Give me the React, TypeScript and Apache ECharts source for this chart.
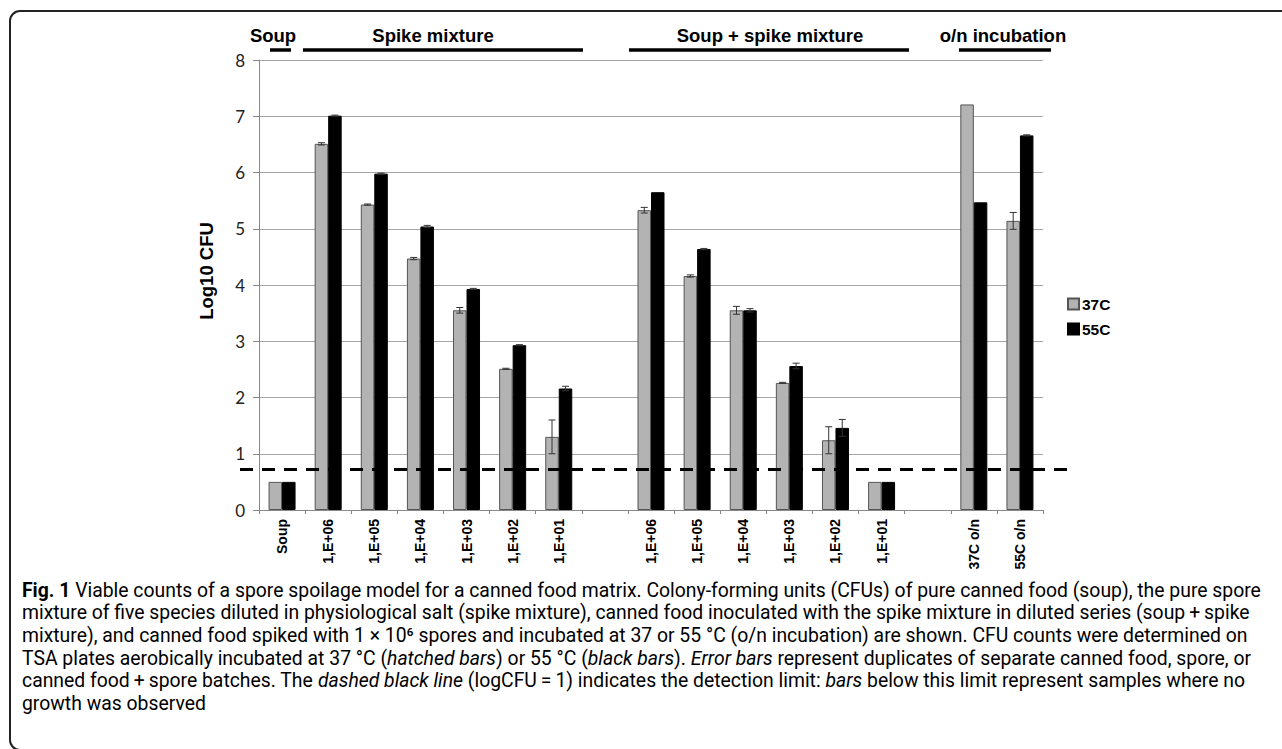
import React, { useEffect, useRef } from 'react';
import * as echarts from 'echarts';

// ---------- data ----------
const categories = [
  'Soup', '1,E+06', '1,E+05', '1,E+04', '1,E+03', '1,E+02', '1,E+01', '',
  '1,E+06', '1,E+05', '1,E+04', '1,E+03', '1,E+02', '1,E+01', '',
  '37C o/n', '55C o/n',
];
const legendNames = ['37C', '55C'];
const values37 = [0.5, 6.51, 5.43, 4.47, 3.55, 2.51, 1.30, null, 5.33, 4.16, 3.55, 2.26, 1.24, 0.5, null, 7.21, 5.14];
const values55 = [0.5, 7.01, 5.98, 5.04, 3.93, 2.93, 2.16, null, 5.65, 4.64, 3.55, 2.56, 1.46, 0.5, null, 5.47, 6.66];
const errors37 = [0, 0.02, 0.01, 0.02, 0.05, 0.01, 0.30, null, 0.05, 0.02, 0.07, 0.01, 0.24, 0, null, 0, 0.15];
const errors55 = [0, 0.01, 0.01, 0.02, 0.01, 0.01, 0.04, null, 0, 0.01, 0.03, 0.05, 0.15, 0, null, 0, 0.01];
const detectionLimit = [0.72];
const yAxisTitle = 'Log10 CFU';
const groupHeaders = ['Soup', 'Spike mixture', 'Soup + spike mixture', 'o/n incubation'];

type Seg = [string, string];
const captionLines: Seg[][] = [
  [['b', 'Fig. 1'], ['n', ' Viable counts of a spore spoilage model for a canned food matrix. Colony-forming units (CFUs) of pure canned food (soup), the pure spore']],
  [['n', 'mixture of five species diluted in physiological salt (spike mixture), canned food inoculated with the spike mixture in diluted series (soup\u2009+\u2009spike']],
  [['n', 'mixture), and canned food spiked with 1 × 10⁶ spores and incubated at 37 or 55 °C (o/n incubation) are shown. CFU counts were determined on']],
  [['n', 'TSA plates aerobically incubated at 37 °C ('], ['i', 'hatched bars'], ['n', ') or 55 °C ('], ['i', 'black bars'], ['n', '). '], ['i', 'Error bars'], ['n', ' represent duplicates of separate canned food, spore, or']],
  [['n', 'canned food\u2009+\u2009spore batches. The '], ['i', 'dashed black line'], ['n', ' (logCFU\u2009=\u20091) indicates the detection limit: '], ['i', 'bars'], ['n', ' below this limit represent samples where no']],
  [['n', 'growth was observed']],
];

// ---------- layout constants ----------
const W = 1282;
const H = 749;
const GRID = { left: 259, right: W - 1043, top: 60, bottom: H - 510 };
const BAR_W = 13.5;
const HEAD_FONT = 'Liberation Sans, Arial, sans-serif';
const CAP_FONT = 'Roboto, sans-serif';

const headerPos = [
  { cx: 273, x1: 270, x2: 291 },
  { cx: 433, x1: 303, x2: 583 },
  { cx: 770, x1: 629, x2: 909 },
  { cx: 1003, x1: 959, x2: 1051 },
];

function measureSegs(segs: Seg[], size: number) {
  const c = document.createElement('canvas').getContext('2d');
  if (!c) return 1;
  let w = 0;
  for (const [s, t] of segs) {
    const style = s === 'i' ? 'italic ' : '';
    const weight = s === 'b' ? 'bold ' : '';
    c.font = `${style}${weight}${size}px ${CAP_FONT}`;
    w += c.measureText(t).width;
  }
  return w;
}

function errorBarSeries(values: (number | null)[], errors: (number | null)[], offset: number) {
  const data = categories
    .map((_, i) => [i, values[i], errors[i]])
    .filter((d) => d[1] != null && (d[2] as number) > 0);
  return {
    type: 'custom',
    data,
    z: 5,
    encode: { x: 0, y: 1 },
    silent: true,
    renderItem: (params: any, api: any) => {
      const idx = api.value(0);
      const v = api.value(1);
      const e = api.value(2);
      const hi = api.coord([idx, v + e]);
      const lo = api.coord([idx, v - e]);
      const x = hi[0] + offset;
      const st = { stroke: '#333', lineWidth: 1 };
      return {
        type: 'group',
        children: [
          { type: 'line', shape: { x1: x, y1: hi[1], x2: x, y2: lo[1] }, style: st },
          { type: 'line', shape: { x1: x - 3.5, y1: hi[1], x2: x + 3.5, y2: hi[1] }, style: st },
          { type: 'line', shape: { x1: x - 3.5, y1: lo[1], x2: x + 3.5, y2: lo[1] }, style: st },
        ],
      };
    },
  };
}

// category labels drawn at the category scale positions (rotated, reading upward)
const categoryLabelSeries = {
  type: 'custom',
  data: categories.map((_, i) => [i, 0]),
  z: 6,
  silent: true,
  clip: false,
  encode: { x: 0, y: 1 },
  renderItem: (params: any, api: any) => {
    const idx = api.value(0);
    const p = api.coord([idx, 0]);
    return {
      type: 'text',
      x: p[0],
      y: p[1] + 9,
      rotation: Math.PI / 2,
      style: {
        text: categories[idx],
        fontFamily: HEAD_FONT,
        fontWeight: 'bold',
        fontSize: 14,
        fill: '#000',
        align: 'right',
        verticalAlign: 'middle',
      },
    };
  },
};

export default function App() {
  const ref = useRef<HTMLDivElement>(null);
  useEffect(() => {
    if (!ref.current) return;
    const chart = echarts.init(ref.current, null, { renderer: 'svg' });

    const capBase = measureSegs(captionLines[0], 20);
    const capSize = Math.max(12, Math.min(22, (20 * 1240) / capBase));
    const capColor = '#333';
    const rich = {
      n: { fontFamily: CAP_FONT, fontSize: capSize, color: capColor },
      b: { fontFamily: CAP_FONT, fontSize: capSize, color: capColor, fontWeight: 'bold' },
      i: { fontFamily: CAP_FONT, fontSize: capSize, color: capColor, fontStyle: 'italic' },
    };

    const graphics: any[] = [
      {
        type: 'rect',
        silent: true,
        shape: { x: 10, y: 11, width: 1320, height: 739, r: 10 },
        style: { fill: 'none', stroke: '#222', lineWidth: 2 },
      },
      {
        type: 'text',
        silent: true,
        x: 206,
        y: 271,
        rotation: Math.PI / 2,
        style: {
          text: yAxisTitle,
          fontFamily: HEAD_FONT,
          fontWeight: 'bold',
          fontSize: 18.5,
          fill: '#000',
          align: 'center',
          verticalAlign: 'middle',
        },
      },
    ];
    groupHeaders.forEach((h, i) => {
      const p = headerPos[i];
      graphics.push({
        type: 'text',
        silent: true,
        x: p.cx,
        y: 35,
        style: {
          text: h,
          fontFamily: HEAD_FONT,
          fontWeight: 'bold',
          fontSize: 18.5,
          fill: '#000',
          align: 'center',
          verticalAlign: 'middle',
        },
      });
      graphics.push({
        type: 'line',
        silent: true,
        shape: { x1: p.x1, y1: 50, x2: p.x2, y2: 50 },
        style: { stroke: '#000', lineWidth: 3.5 },
      });
    });
    captionLines.forEach((segs, i) => {
      graphics.push({
        type: 'text',
        silent: true,
        x: 22,
        y: 590 + i * 22.7,
        style: {
          text: segs.map(([s, t]) => `{${s}|${t}}`).join(''),
          rich,
          align: 'left',
          verticalAlign: 'middle',
        },
      });
    });

    chart.setOption({
      animation: false,
      backgroundColor: '#fff',
      grid: GRID,
      legend: {
        data: legendNames,
        orient: 'vertical',
        left: 1062,
        top: 291,
        icon: 'rect',
        itemWidth: 11,
        itemHeight: 11,
        itemGap: 9,
        textStyle: { fontFamily: HEAD_FONT, fontWeight: 'bold', fontSize: 15.5, color: '#000', padding: [0, 0, 0, -2] },
      },
      xAxis: {
        type: 'category',
        data: categories,
        boundaryGap: true,
        axisLine: { lineStyle: { color: '#888', width: 1 } },
        axisTick: { show: true, interval: 0, length: 4, lineStyle: { color: '#888' } },
        axisLabel: { show: false },
        splitLine: { show: false },
      },
      yAxis: {
        type: 'value',
        min: 0,
        max: 8,
        interval: 1,
        axisLine: { show: true, lineStyle: { color: '#888', width: 1 } },
        axisTick: { show: true, length: 6, lineStyle: { color: '#888' } },
        axisLabel: { margin: 14, fontFamily: 'Lato, sans-serif', fontSize: 17, color: '#222' },
        splitLine: { lineStyle: { color: '#a6a6a6', width: 1 } },
      },
      graphic: graphics,
      series: [
        {
          name: legendNames[0],
          type: 'bar',
          data: values37,
          barWidth: BAR_W,
          barGap: '0%',
          itemStyle: { color: '#b3b3b3', borderColor: '#555', borderWidth: 1 },
        },
        {
          name: legendNames[1],
          type: 'bar',
          data: values55,
          barWidth: BAR_W,
          barGap: '0%',
          itemStyle: { color: '#000', borderColor: '#000', borderWidth: 1 },
        },
        errorBarSeries(values37, errors37, -BAR_W / 2),
        errorBarSeries(values55, errors55, BAR_W / 2),
        categoryLabelSeries,
        {
          type: 'custom',
          data: detectionLimit.map((v) => [0, v]),
          z: 10,
          silent: true,
          clip: false,
          encode: { x: 0, y: 1 },
          renderItem: (params: any, api: any) => {
            const cs = params.coordSys;
            const y = api.coord([0, api.value(1)])[1];
            return {
              type: 'line',
              shape: { x1: cs.x - 19, y1: y, x2: cs.x + cs.width + 25, y2: y },
              style: { stroke: '#000', lineWidth: 3, lineDash: [13, 9] },
            };
          },
        },
      ],
    });
    return () => chart.dispose();
  }, []);
  return (
    <div
      ref={ref}
      style={{ position: 'fixed', left: 0, top: 0, width: W, height: H, background: '#fff' }}
    />
  );
}
